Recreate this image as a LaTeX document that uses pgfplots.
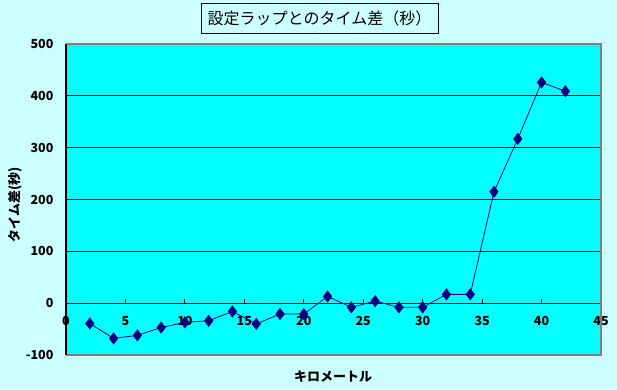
\documentclass[border=0pt]{standalone}
\usepackage{fontspec}
\setmainfont{Noto Sans CJK JP}
\usepackage{pgfplots}
\pgfplotsset{compat=1.18}
\definecolor{bgc}{HTML}{CCFFFF}
\definecolor{plotc}{HTML}{00FFFF}
\definecolor{navyc}{HTML}{000080}
\begin{document}
\begin{tikzpicture}[x=1pt,y=1pt]
\fill[bgc] (0,0) rectangle (617,389);
\begin{axis}[
  at={(66pt,34pt)}, anchor=south west,
  scale only axis, width=535pt, height=311pt,
  xmin=0, xmax=45, ymin=-100, ymax=500,
  axis x line=middle, axis y line=left,
  axis line style={-, black, line width=1.2pt},
  hide obscured x ticks=false, hide obscured y ticks=false,
  xtick={0,5,...,45}, ytick={-100,0,...,500},
  extra y ticks={100,200,300,400},
  extra y tick labels={},
  extra y tick style={grid=major, major grid style={black, line width=0.9pt}, tick style={draw=none}},
  tick align=inside,
  major tick length=4pt,
  tick style={black, line width=0.8pt},
  axis background/.style={fill=plotc},
  /pgf/number format/assume math mode=true,
  ticklabel style={font=\fontsize{12.5}{14}\selectfont\bfseries},
  yticklabel style={anchor=east, xshift=-9pt},
  xticklabel style={anchor=north, yshift=-10pt},
  clip=false,
]
\draw[gray, line width=2pt] (rel axis cs:0,1) -- (rel axis cs:1,1) -- (rel axis cs:1,0) -- (rel axis cs:0,0);
\draw[black, line width=1.2pt] (rel axis cs:0,0) -- (rel axis cs:0,1);
\addplot[navyc, line width=0.8pt, mark=diamond*, mark size=5.5pt, mark options={fill=navyc, draw=navyc}] coordinates {
(2,-39) (4,-68) (6,-62) (8,-47) (10,-37) (12,-34) (14,-16) (16,-40) (18,-21) (20,-21)
(22,13) (24,-8) (26,4) (28,-8) (30,-8) (32,17) (34,17) (36,215) (38,317) (40,426) (42,409)
};
\end{axis}
\node[draw=black, line width=0.8pt, fill=bgc, minimum width=237pt, minimum height=30pt, inner sep=0pt, font=\fontsize{16}{18}\selectfont] at (319.5,370.5) {設定ラップとのタイム差（秒）};
\node[rotate=90, font=\fontsize{13}{15}\selectfont\bfseries] at (15,184) {タイム差(秒)};
\node[font=\fontsize{13}{15}\selectfont\bfseries] at (333,12) {キロメートル};
\end{tikzpicture}
\end{document}
